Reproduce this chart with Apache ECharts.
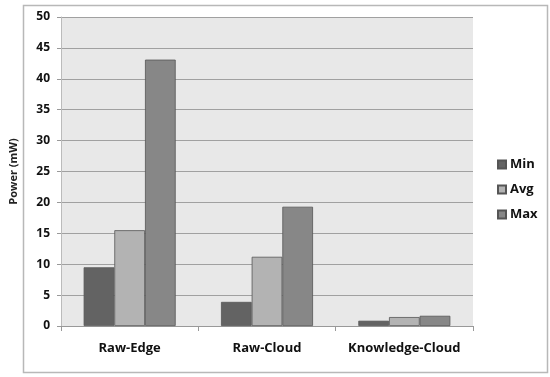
<!DOCTYPE html>
<html><head><meta charset="utf-8">
<script src="https://cdn.jsdelivr.net/npm/echarts@6/dist/echarts.min.js"></script>
<style>html,body{margin:0;padding:0;background:#fff}#c{width:550px;height:377px}</style>
</head><body><div id="c"></div>
<script>
const categories = ['Raw-Edge', 'Raw-Cloud', 'Knowledge-Cloud'];
const minValues = [9.5, 3.9, 0.85];
const avgValues = [15.5, 11.2, 1.45];
const maxValues = [43.1, 19.3, 1.65];
const seriesNames = ['Min', 'Avg', 'Max'];
const yTicks = { min: 0, max: 50, interval: 5 };

const chart = echarts.init(document.getElementById('c'));
const font = '"Open Sans", "Liberation Sans", sans-serif';
const colors = ['#636363', '#b3b3b3', '#878787'];
const data = [minValues, avgValues, maxValues];
chart.setOption({
  animation: false,
  backgroundColor: '#fff',
  graphic: [{
    type: 'rect', left: 21, top: 3, z: -10,
    shape: { width: 524, height: 367 },
    style: { fill: 'none', stroke: '#b8b8b8', lineWidth: 1.5 }
  }],
  grid: { left: 59, right: 77, top: 17, bottom: 51, show: true, backgroundColor: '#e8e8e8', borderWidth: 0 },
  legend: {
    orient: 'vertical', left: 492, top: 153, itemWidth: 8, itemHeight: 8, itemGap: 12,
    icon: 'rect',
    textStyle: { fontFamily: font, fontWeight: 'bold', fontSize: 13, color: '#111', padding: [0, 0, 0, -1] },
    data: seriesNames
  },
  xAxis: {
    type: 'category', data: categories,
    axisLine: { lineStyle: { color: '#999', width: 1 } },
    axisTick: { show: true, length: 5, lineStyle: { color: '#999' } },
    axisLabel: { interval: 0, fontFamily: font, fontWeight: 'bold', fontSize: 13, color: '#111', margin: 16 }
  },
  yAxis: {
    type: 'value', min: yTicks.min, max: yTicks.max, interval: yTicks.interval,
    name: 'Power (mW)', nameLocation: 'middle', nameGap: 42,
    nameTextStyle: { fontFamily: font, fontWeight: 'bold', fontSize: 11, color: '#222' },
    axisLine: { show: true, lineStyle: { color: '#bbb' } },
    axisTick: { show: true, length: 4, lineStyle: { color: '#999' } },
    splitLine: { lineStyle: { color: '#a0a0a0', width: 1 } },
    axisLabel: { fontFamily: font, fontWeight: 'bold', fontSize: 12, color: '#111', margin: 11 }
  },
  series: seriesNames.map((n, i) => ({
    name: n, type: 'bar', data: data[i],
    barGap: '0%', barCategoryGap: '33%',
    itemStyle: { color: colors[i], borderColor: '#555', borderWidth: 0.8 }
  }))
});
</script></body></html>
